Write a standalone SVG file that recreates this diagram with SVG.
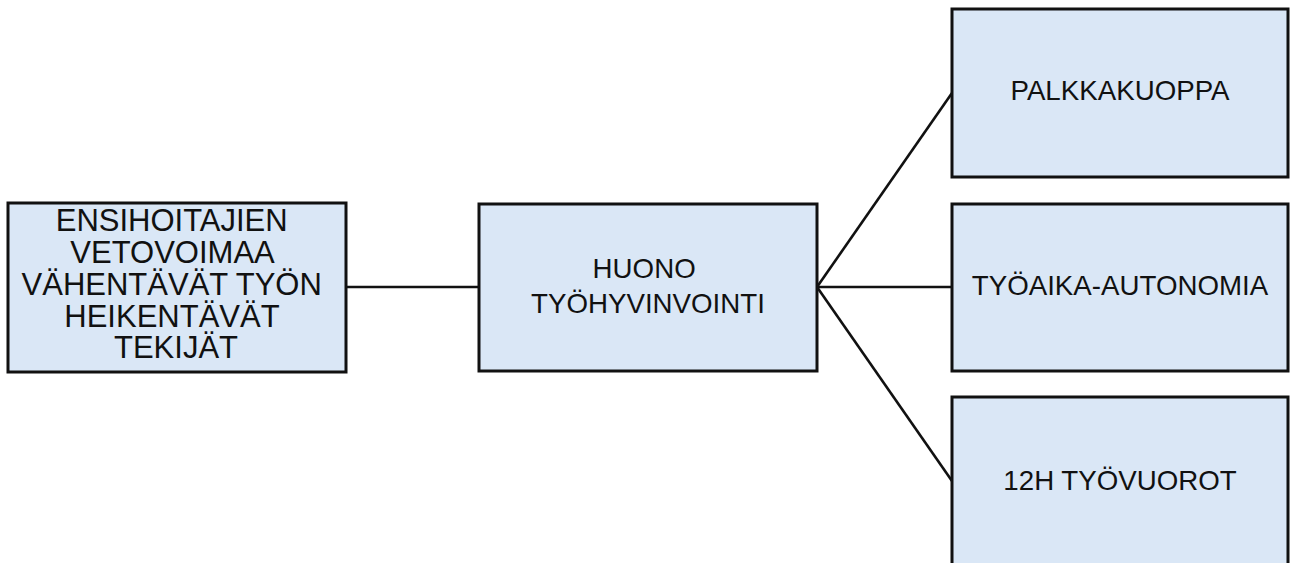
<svg xmlns="http://www.w3.org/2000/svg" width="1290" height="563" viewBox="0 0 1290 563">
  <style>
    .box { fill: #dae7f6; stroke: #111; stroke-width: 3; }
    .link { stroke: #111; stroke-width: 2.6; fill: none; }
    .lbl { font-family: "Liberation Sans", Arial, sans-serif; fill: #111; text-anchor: middle; }
    .big { font-size: 31px; }
    .mid { font-size: 27.7px; }
  </style>
  <rect width="1290" height="563" fill="#ffffff"/>

  <!-- connectors -->
  <g id="connectors">
    <line class="link" x1="346" y1="287" x2="479" y2="287"/>
    <line class="link" x1="817" y1="287" x2="952" y2="93"/>
    <line class="link" x1="817" y1="287" x2="952" y2="287"/>
    <line class="link" x1="817" y1="287" x2="952" y2="481"/>
  </g>

  <g id="node-root">
    <rect class="box" x="8" y="203" width="338" height="169"/>
    <text class="lbl big">
      <tspan x="176" y="231">ENSIHOITAJIEN</tspan>
      <tspan x="176" y="263">VETOVOIMAA</tspan>
      <tspan x="176" y="295">VÄHENTÄVÄT TYÖN</tspan>
      <tspan x="176" y="327">HEIKENTÄVÄT</tspan>
      <tspan x="176" y="358">TEKIJÄT</tspan>
    </text>
  </g>

  <g id="node-wellbeing">
    <rect class="box" x="479" y="204" width="338" height="167"/>
    <text class="lbl mid">
      <tspan x="648" y="278">HUONO</tspan>
      <tspan x="648" y="313">TYÖHYVINVOINTI</tspan>
    </text>
  </g>

  <g id="node-pay">
    <rect class="box" x="952" y="9" width="336" height="168"/>
    <text class="lbl mid" x="1120" y="100">PALKKAKUOPPA</text>
  </g>

  <g id="node-autonomy">
    <rect class="box" x="952" y="204" width="336" height="167"/>
    <text class="lbl mid" x="1120" y="295">TYÖAIKA-AUTONOMIA</text>
  </g>

  <g id="node-shifts">
    <rect class="box" x="952" y="397" width="336" height="180"/>
    <text class="lbl mid" x="1120" y="490">12H TYÖVUOROT</text>
  </g>
</svg>
